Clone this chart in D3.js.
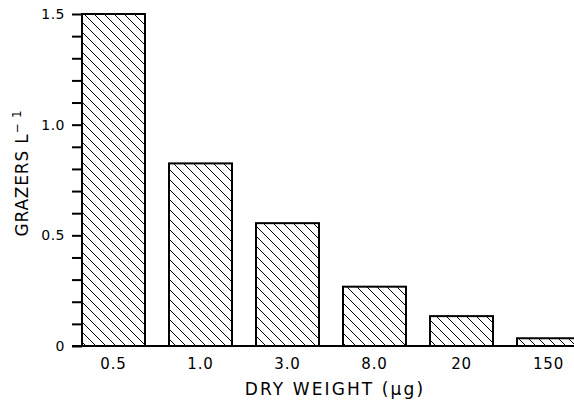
<!DOCTYPE html>
<html>
<head>
<meta charset="utf-8">
<script src="https://cdn.jsdelivr.net/npm/d3@7"></script>
<style>
  body { margin: 0; background: #fff; }
  svg { display: block; font-family: "DejaVu Sans", sans-serif; }
</style>
</head>
<body>
<svg width="574" height="401"></svg>
<script>
// --- Data ---
const weights = ["0.5", "1.0", "3.0", "8.0", "20", "150"];
const grazers = [1.5, 0.825, 0.555, 0.268, 0.135, 0.035];
const yMajor = [0, 0.5, 1.0, 1.5];
const yLabels = ["0", "0.5", "1.0", "1.5"];

// --- Setup ---
const svg = d3.select("svg");
const x0 = 82, yTop = 14, yBase = 346;

const x = d3.scaleBand()
    .domain(weights)
    .range([x0, 580])
    .paddingInner(0.276)
    .paddingOuter(0);

const y = d3.scaleLinear()
    .domain([0, 1.5])
    .range([yBase, yTop]);

// hatch pattern
const defs = svg.append("defs");
const pat = defs.append("pattern")
    .attr("id", "hatch")
    .attr("patternUnits", "userSpaceOnUse")
    .attr("width", 10)
    .attr("height", 10);
pat.append("path")
    .attr("d", "M-1,-1 L11,11 M-6,4 L6,16 M4,-6 L16,6")
    .attr("stroke", "#000")
    .attr("stroke-width", 1);

// --- Bars ---
svg.append("g")
    .selectAll("rect")
    .data(weights)
    .enter().append("rect")
    .attr("x", d => x(d))
    .attr("y", (d, i) => y(grazers[i]))
    .attr("width", x.bandwidth())
    .attr("height", (d, i) => yBase - y(grazers[i]))
    .attr("fill", "url(#hatch)")
    .attr("stroke", "#000")
    .attr("stroke-width", 2);

// --- Y axis ---
const yAxis = d3.axisLeft(y)
    .tickValues(d3.range(0, 16).map(i => i / 10))
    .tickSize(10)
    .tickFormat(d => {
        const k = yMajor.findIndex(m => Math.abs(m - d) < 1e-6);
        return k >= 0 ? yLabels[k] : "";
    });

const gy = svg.append("g")
    .attr("transform", `translate(${x0},0)`)
    .call(yAxis);
gy.select(".domain")
    .attr("d", `M0,${yTop}V${yBase}`)
    .attr("stroke-width", 2);
gy.selectAll(".tick line").attr("stroke-width", 2);
gy.selectAll(".tick text")
    .attr("x", -17)
    .attr("font-size", 14)
    .attr("letter-spacing", 0.5)
    .attr("font-family", "DejaVu Sans, sans-serif");

// --- X baseline ---
svg.append("line")
    .attr("x1", x0 - 10)
    .attr("x2", 574)
    .attr("y1", yBase)
    .attr("y2", yBase)
    .attr("stroke", "#000")
    .attr("stroke-width", 2);

// x labels
svg.append("g")
    .selectAll("text")
    .data(weights)
    .enter().append("text")
    .attr("x", d => x(d) + x.bandwidth() / 2)
    .attr("y", 369)
    .attr("text-anchor", "middle")
    .attr("font-size", 15)
    .attr("letter-spacing", 0.8)
    .text(d => d);

// axis titles
svg.append("text")
    .attr("x", 335)
    .attr("y", 395)
    .attr("text-anchor", "middle")
    .attr("font-size", 17)
    .attr("letter-spacing", 2.1)
    .text("DRY WEIGHT (\u03BCg)");

const yt = svg.append("text")
    .attr("transform", "translate(28,173) rotate(-90)")
    .attr("text-anchor", "middle")
    .attr("font-size", 17)
    .attr("letter-spacing", 0.8);
yt.append("tspan").text("GRAZERS L");
yt.append("tspan").attr("dy", -7).attr("font-size", 12).text("\u2212 1");
</script>
</body>
</html>
